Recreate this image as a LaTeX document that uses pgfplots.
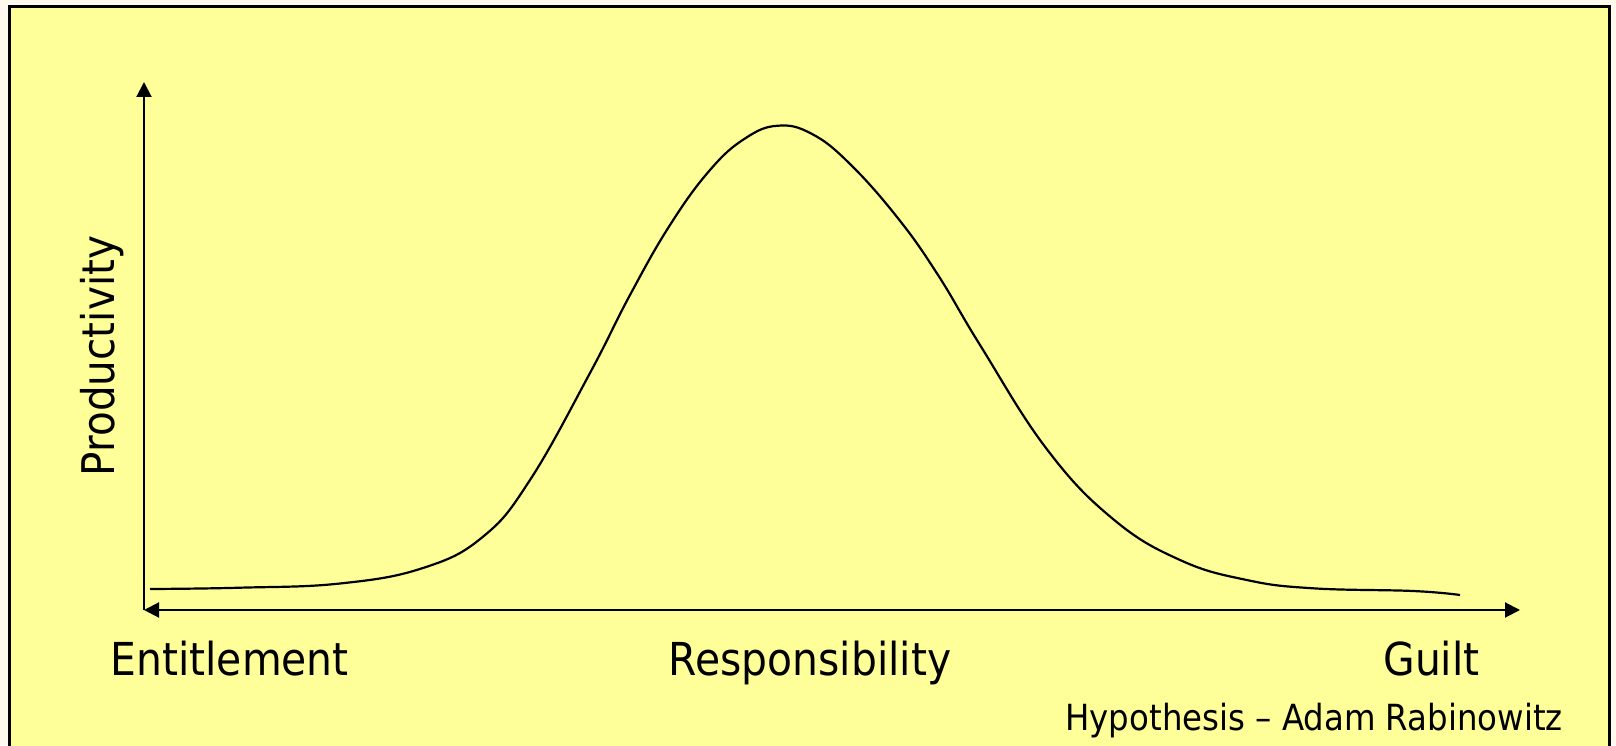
\documentclass[border=0pt]{standalone}
\usepackage{fontspec}
\setmainfont{DejaVu Sans}[FakeStretch=0.9]
\usepackage{pgfplots}
\pgfplotsset{compat=1.18}
\usetikzlibrary{arrows.meta}
\definecolor{bgyellow}{HTML}{FFFF99}
\definecolor{outer}{HTML}{FFF8EE}
\begin{document}
\begin{tikzpicture}[x=0.5pt,y=0.5pt]
\useasboundingbox (0,0) rectangle (1616,745);
\clip (0,0) rectangle (1616,745);
\fill[outer] (0,0) rectangle (1616,745);
\filldraw[fill=bgyellow, draw=black, line width=1.6pt] (9.5,738.5) rectangle (1609.5,-10);
\begin{axis}[
  at={(72pt,67.5pt)}, anchor=south west,
  scale only axis, width=688pt, height=264pt,
  xmin=144, xmax=1520, ymin=135, ymax=663,
  axis lines=left,
  axis line style={line width=1pt},
  x axis line style={{Triangle[length=7.5pt,width=7.5pt]}-{Triangle[length=7.5pt,width=7.5pt]}},
  y axis line style={-{Triangle[length=7.5pt,width=7.5pt]}},
  xtick=\empty, ytick=\empty,
  clip=false,
]
\addplot[black, line width=1.1pt, smooth, tension=0.7] coordinates {
(150,156) (240,157.3) (340,161.5) (423,177) (483,208.3) (530,265)
(590,372) (630,450) (670,520) (710,575) (745,606.5) (778,619.3)
(812,611) (850,581) (898,526.7) (938,470) (980,400) (1046.7,296)
(1113,226) (1180,185) (1246.7,165) (1313,156.7) (1413,154) (1460,150)
};
\end{axis}
\node[anchor=base west, inner sep=0pt, font=\fontsize{22.7pt}{27pt}\selectfont] at (110,70) {Entitlement};
\node[anchor=base, inner sep=0pt, font=\fontsize{22.7pt}{27pt}\selectfont] at (810,70) {Responsibility};
\node[anchor=base west, inner sep=0pt, font=\fontsize{22.7pt}{27pt}\selectfont] at (1383,70) {Guilt};
\node[anchor=base west, inner sep=0pt, font=\fontsize{18pt}{22pt}\selectfont] at (1065,15) {Hypothesis -- Adam Rabinowitz};
\node[anchor=base, rotate=90, inner sep=0pt, font=\fontsize{22.5pt}{27pt}\selectfont] at (114,389) {Productivity};
\end{tikzpicture}
\end{document}
